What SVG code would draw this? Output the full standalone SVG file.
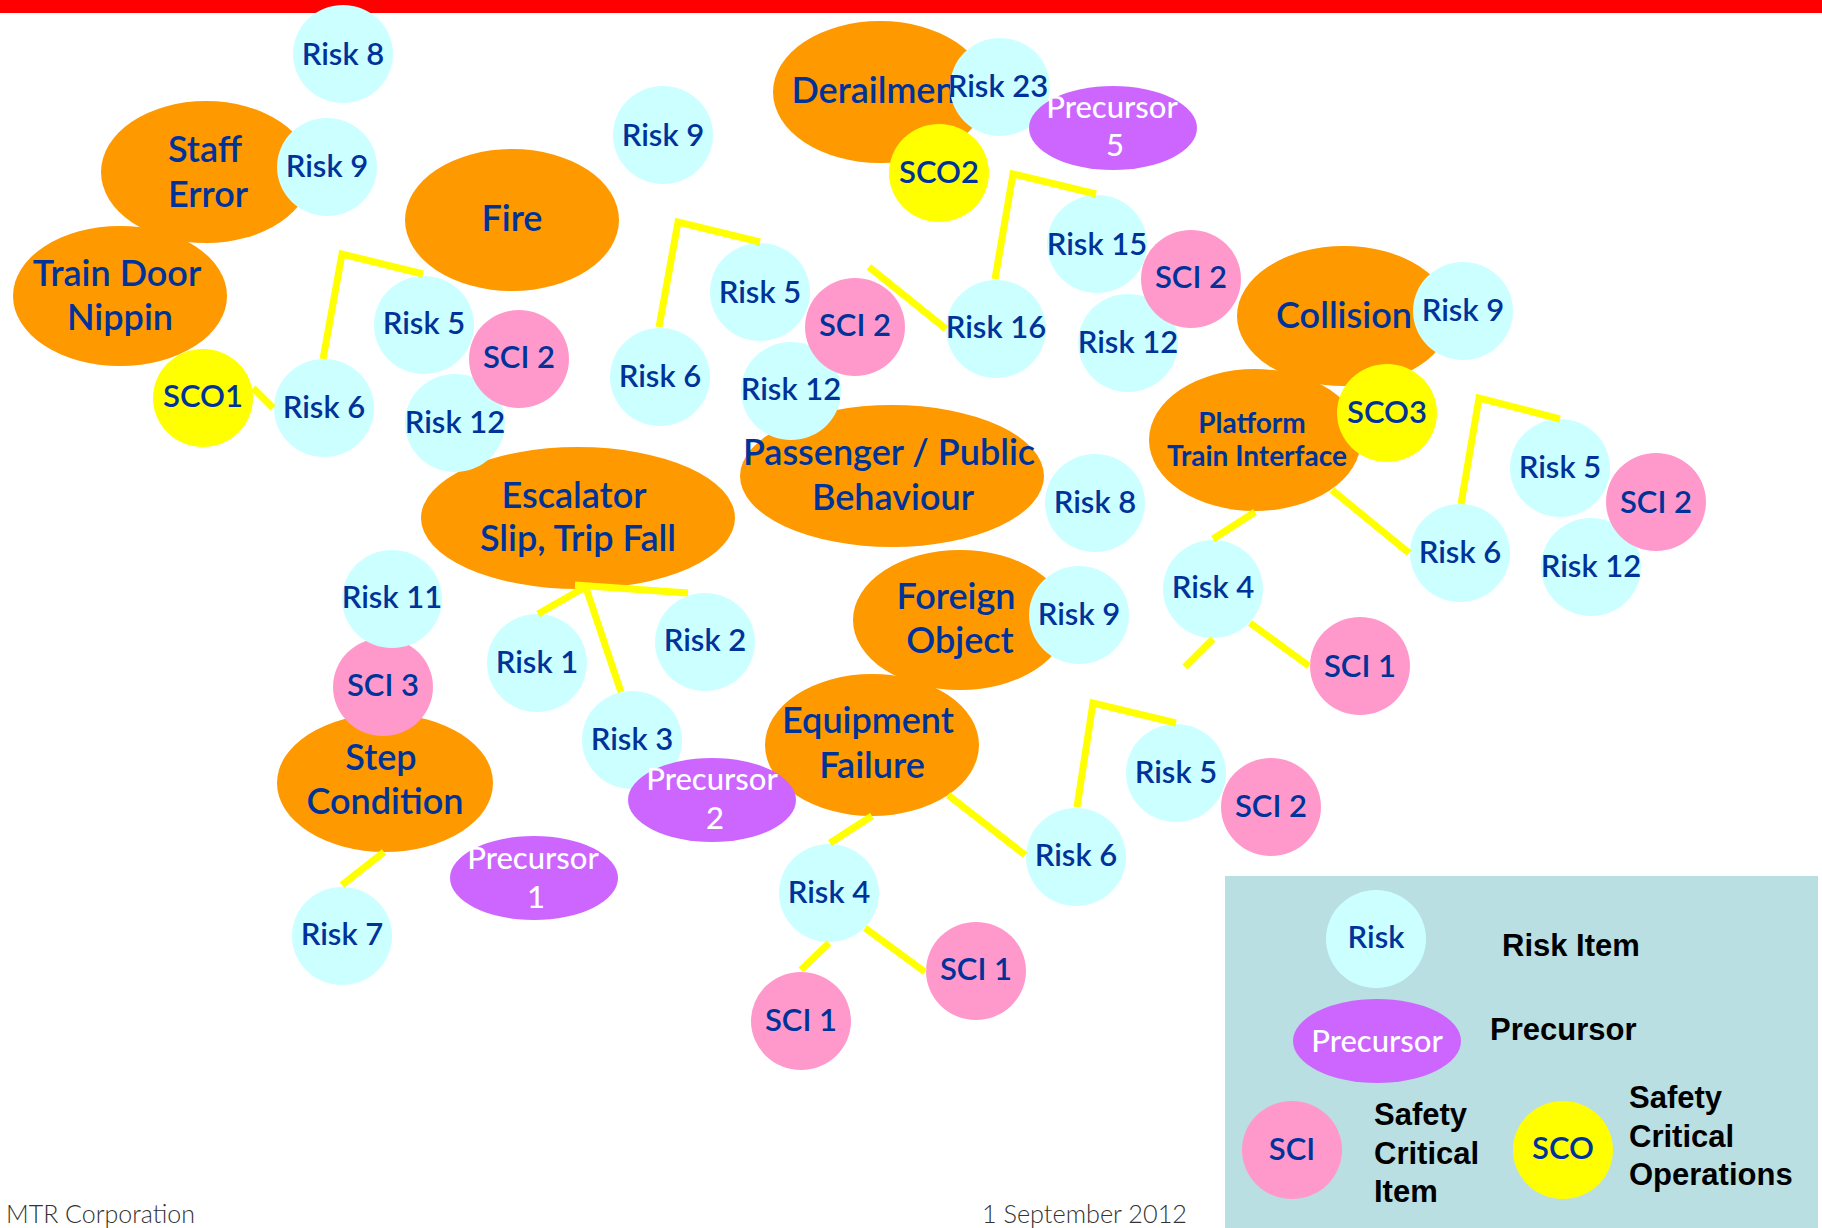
<svg xmlns="http://www.w3.org/2000/svg" width="1822" height="1228" viewBox="0 0 1822 1228">
  <style>
    .hz { fill: #FF9900; }
    .risk { fill: #CCFFFF; }
    .sci { fill: #FF99CC; }
    .sco { fill: #FFFF00; }
    .pre { fill: #CC66FF; }
    .lb { font-family: Lato, "Liberation Sans", sans-serif; font-weight: 600; font-size: 31px; fill: #003399; text-anchor: middle; }
    .big { font-size: 36px; }
    .ptb { font-weight: bold; font-size: 28px; }
    .wt { fill: #FFFFFF; font-weight: 500; }
    .key { font-family: "Liberation Sans", Arial, sans-serif; font-weight: bold; font-size: 31px; fill: #000000; }
    .foot { font-family: Lato, "Liberation Sans", sans-serif; font-weight: 300; font-size: 26px; fill: #333333; }
    .conn { stroke: #FFFF00; stroke-width: 7; fill: none; stroke-linejoin: miter; }
  </style>

  <!-- header band -->
  <rect x="0" y="0" width="1822" height="13" fill="#FF0000"/>

  <!-- hazard groups (orange) -->
  <g id="staff-error">
    <ellipse class="hz" cx="206" cy="172" rx="105" ry="71"/>
    <text class="lb big" x="205" y="162">Staff</text>
    <text class="lb big" x="208" y="207">Error</text>
  </g>
  <g id="train-door-nippin">
    <ellipse class="hz" cx="120" cy="296" rx="107" ry="70"/>
    <text class="lb big" x="117" y="286">Train Door</text>
    <text class="lb big" x="120" y="330">Nippin</text>
  </g>
  <g id="fire">
    <ellipse class="hz" cx="512" cy="220" rx="107" ry="71"/>
    <text class="lb big" x="512" y="231">Fire</text>
  </g>
  <g id="derailment">
    <ellipse class="hz" cx="880" cy="92" rx="107" ry="71"/>
    <text class="lb big" x="880" y="103">Derailment</text>
  </g>
  <g id="collision">
    <ellipse class="hz" cx="1344" cy="316" rx="107" ry="70"/>
    <text class="lb big" x="1344" y="328">Collision</text>
  </g>
  <g id="platform-train-interface">
    <ellipse class="hz" cx="1255" cy="440" rx="106" ry="71"/>
    <text class="lb ptb" x="1252" y="433">Platform</text>
    <text class="lb ptb" x="1257" y="466">Train Interface</text>
  </g>
  <g id="passenger-public-behaviour">
    <ellipse class="hz" cx="892" cy="476" rx="152" ry="71"/>
    <text class="lb big" x="889" y="465">Passenger / Public</text>
    <text class="lb big" x="893" y="510">Behaviour</text>
  </g>
  <g id="escalator-slip-trip-fall">
    <ellipse class="hz" cx="578" cy="518" rx="157" ry="71"/>
    <text class="lb big" x="574" y="508">Escalator</text>
    <text class="lb big" x="578" y="551">Slip, Trip Fall</text>
  </g>
  <g id="foreign-object">
    <ellipse class="hz" cx="960" cy="620" rx="107" ry="70"/>
    <text class="lb big" x="956" y="609">Foreign</text>
    <text class="lb big" x="960" y="653">Object</text>
  </g>
  <g id="equipment-failure">
    <ellipse class="hz" cx="872" cy="745" rx="107" ry="71"/>
    <text class="lb big" x="868" y="733">Equipment</text>
    <text class="lb big" x="872" y="778">Failure</text>
  </g>
  <g id="step-condition">
    <ellipse class="hz" cx="385" cy="783" rx="108" ry="69"/>
    <text class="lb big" x="381" y="770">Step</text>
    <text class="lb big" x="385" y="814">Condition</text>
  </g>

  <!-- risk items -->
  <g id="risk8-a"><ellipse class="risk" cx="343" cy="54" rx="50" ry="49"/><text class="lb" x="343" y="65">Risk 8</text></g>
  <g id="risk9-a"><ellipse class="risk" cx="327" cy="167" rx="50" ry="49"/><text class="lb" x="327" y="177">Risk 9</text></g>
  <g id="risk6-a"><ellipse class="risk" cx="324" cy="408" rx="50" ry="49"/><text class="lb" x="324" y="418">Risk 6</text></g>
  <g id="risk5-a"><ellipse class="risk" cx="424" cy="325" rx="50" ry="49"/><text class="lb" x="424" y="334">Risk 5</text></g>
  <g id="risk12-a"><ellipse class="risk" cx="455" cy="423" rx="50" ry="49"/><text class="lb" x="455" y="433">Risk 12</text></g>
  <g id="risk9-b"><ellipse class="risk" cx="663" cy="135" rx="50" ry="49"/><text class="lb" x="663" y="146">Risk 9</text></g>
  <g id="risk23"><ellipse class="risk" cx="1000" cy="87" rx="50" ry="49"/><text class="lb" x="998" y="97">Risk 23</text></g>
  <g id="risk5-b"><ellipse class="risk" cx="760" cy="292" rx="50" ry="49"/><text class="lb" x="760" y="303">Risk 5</text></g>
  <g id="risk6-b"><ellipse class="risk" cx="660" cy="377" rx="50" ry="49"/><text class="lb" x="660" y="387">Risk 6</text></g>
  <g id="risk12-b"><ellipse class="risk" cx="791" cy="391" rx="50" ry="49"/><text class="lb" x="791" y="400">Risk 12</text></g>
  <g id="risk16"><ellipse class="risk" cx="996" cy="329" rx="50" ry="49"/><text class="lb" x="996" y="338">Risk 16</text></g>
  <g id="risk15"><ellipse class="risk" cx="1097" cy="244" rx="50" ry="49"/><text class="lb" x="1097" y="255">Risk 15</text></g>
  <g id="risk12-c"><ellipse class="risk" cx="1128" cy="343" rx="50" ry="49"/><text class="lb" x="1128" y="353">Risk 12</text></g>
  <g id="risk9-c"><ellipse class="risk" cx="1463" cy="311" rx="50" ry="49"/><text class="lb" x="1463" y="321">Risk 9</text></g>
  <g id="risk5-c"><ellipse class="risk" cx="1560" cy="468" rx="50" ry="49"/><text class="lb" x="1560" y="478">Risk 5</text></g>
  <g id="risk12-d"><ellipse class="risk" cx="1591" cy="567" rx="50" ry="49"/><text class="lb" x="1591" y="577">Risk 12</text></g>
  <g id="risk6-c"><ellipse class="risk" cx="1460" cy="553" rx="50" ry="49"/><text class="lb" x="1460" y="563">Risk 6</text></g>
  <g id="risk4-c"><ellipse class="risk" cx="1213" cy="589" rx="50" ry="49"/><text class="lb" x="1213" y="598">Risk 4</text></g>
  <g id="risk8-b"><ellipse class="risk" cx="1095" cy="503" rx="50" ry="49"/><text class="lb" x="1095" y="513">Risk 8</text></g>
  <g id="risk9-d"><ellipse class="risk" cx="1079" cy="615" rx="50" ry="49"/><text class="lb" x="1079" y="625">Risk 9</text></g>
  <g id="risk1"><ellipse class="risk" cx="537" cy="663" rx="50" ry="49"/><text class="lb" x="537" y="673">Risk 1</text></g>
  <g id="risk2"><ellipse class="risk" cx="705" cy="642" rx="50" ry="49"/><text class="lb" x="705" y="651">Risk 2</text></g>
  <g id="risk3"><ellipse class="risk" cx="632" cy="740" rx="50" ry="49"/><text class="lb" x="632" y="750">Risk 3</text></g>
  <g id="risk7"><ellipse class="risk" cx="342" cy="936" rx="50" ry="49"/><text class="lb" x="342" y="945">Risk 7</text></g>
  <g id="risk4-e"><ellipse class="risk" cx="829" cy="893" rx="50" ry="49"/><text class="lb" x="829" y="903">Risk 4</text></g>
  <g id="risk6-e"><ellipse class="risk" cx="1076" cy="857" rx="50" ry="49"/><text class="lb" x="1076" y="866">Risk 6</text></g>
  <g id="risk5-e"><ellipse class="risk" cx="1176" cy="773" rx="50" ry="49"/><text class="lb" x="1176" y="783">Risk 5</text></g>

  <!-- safety critical items -->
  <g id="sci2-a"><ellipse class="sci" cx="519" cy="359" rx="50" ry="49"/><text class="lb" x="519" y="368">SCI 2</text></g>
  <g id="sci2-b"><ellipse class="sci" cx="855" cy="327" rx="50" ry="49"/><text class="lb" x="855" y="336">SCI 2</text></g>
  <g id="sci2-c"><ellipse class="sci" cx="1191" cy="279" rx="50" ry="49"/><text class="lb" x="1191" y="288">SCI 2</text></g>
  <g id="sci2-d"><ellipse class="sci" cx="1656" cy="502" rx="50" ry="49"/><text class="lb" x="1656" y="513">SCI 2</text></g>
  <g id="sci2-e"><ellipse class="sci" cx="1271" cy="807" rx="50" ry="49"/><text class="lb" x="1271" y="817">SCI 2</text></g>
  <g id="sci1-c"><ellipse class="sci" cx="1360" cy="666" rx="50" ry="49"/><text class="lb" x="1360" y="677">SCI 1</text></g>
  <g id="sci1-e2"><ellipse class="sci" cx="976" cy="971" rx="50" ry="49"/><text class="lb" x="976" y="980">SCI 1</text></g>
  <g id="sci1-e1"><ellipse class="sci" cx="801" cy="1021" rx="50" ry="49"/><text class="lb" x="801" y="1031">SCI 1</text></g>
  <g id="sci3"><ellipse class="sci" cx="383" cy="687" rx="50" ry="49"/><text class="lb" x="383" y="696">SCI 3</text></g>
  <g id="risk11"><ellipse class="risk" cx="392" cy="599" rx="50" ry="49"/><text class="lb" x="392" y="608">Risk 11</text></g>

  <!-- safety critical operations -->
  <g id="sco1"><ellipse class="sco" cx="203" cy="398" rx="50" ry="49"/><text class="lb" x="203" y="407">SCO1</text></g>
  <g id="sco2"><ellipse class="sco" cx="939" cy="173" rx="50" ry="49"/><text class="lb" x="939" y="183">SCO2</text></g>
  <g id="sco3"><ellipse class="sco" cx="1387" cy="413" rx="50" ry="49"/><text class="lb" x="1387" y="423">SCO3</text></g>

  <!-- precursors -->
  <g id="precursor5"><ellipse class="pre" cx="1113" cy="128" rx="84" ry="42"/><text class="lb wt" x="1112" y="118">Precursor</text><text class="lb wt" x="1115" y="156">5</text></g>
  <g id="precursor2"><ellipse class="pre" cx="712" cy="800" rx="84" ry="42"/><text class="lb wt" x="712" y="790">Precursor</text><text class="lb wt" x="715" y="829">2</text></g>
  <g id="precursor1"><ellipse class="pre" cx="534" cy="878" rx="84" ry="42"/><text class="lb wt" x="533" y="869">Precursor</text><text class="lb wt" x="536" y="908">1</text></g>

  <!-- connectors -->
  <g id="connectors">
    <polyline class="conn" points="323,359 342,254 423,274"/>
    <line class="conn" x1="253" y1="388" x2="273" y2="408"/>
    <polyline class="conn" points="659,327 678,222 760,242"/>
    <line class="conn" x1="869" y1="267" x2="946" y2="329"/>
    <polyline class="conn" points="995,279 1013,174 1096,194"/>
    <line class="conn" x1="1332" y1="490" x2="1409" y2="553"/>
    <line class="conn" x1="1255" y1="512" x2="1213" y2="539"/>
    <line class="conn" x1="1250" y1="623" x2="1309" y2="666"/>
    <line class="conn" x1="1213" y1="639" x2="1185" y2="667"/>
    <polyline class="conn" points="1461,504 1479,398 1560,419"/>
    <line class="conn" x1="587" y1="586" x2="538" y2="614"/>
    <line class="conn" x1="575" y1="585" x2="688" y2="593"/>
    <line class="conn" x1="586" y1="588" x2="621" y2="692"/>
    <line class="conn" x1="384" y1="852" x2="342" y2="885"/>
    <line class="conn" x1="872" y1="816" x2="830" y2="843"/>
    <line class="conn" x1="948" y1="795" x2="1025" y2="855"/>
    <polyline class="conn" points="1077,807 1093,703 1176,723"/>
    <line class="conn" x1="865" y1="928" x2="925" y2="972"/>
    <line class="conn" x1="829" y1="943" x2="801" y2="970"/>
  </g>

  <!-- key -->
  <g id="legend">
    <rect x="1225" y="876" width="593" height="352" fill="#BADFE2"/>
    <ellipse class="risk" cx="1376" cy="939" rx="50" ry="49"/>
    <text class="lb" x="1376" y="948">Risk</text>
    <text class="key" x="1502" y="956">Risk Item</text>
    <ellipse class="pre" cx="1377" cy="1041" rx="84" ry="42"/>
    <text class="lb wt" x="1377" y="1052">Precursor</text>
    <text class="key" x="1490" y="1040">Precursor</text>
    <ellipse class="sci" cx="1292" cy="1150" rx="50" ry="49"/>
    <text class="lb" x="1292" y="1160">SCI</text>
    <text class="key" x="1374" y="1125">Safety</text>
    <text class="key" x="1374" y="1164">Critical</text>
    <text class="key" x="1374" y="1202">Item</text>
    <ellipse class="sco" cx="1563" cy="1150" rx="50" ry="49"/>
    <text class="lb" x="1563" y="1159">SCO</text>
    <text class="key" x="1629" y="1108">Safety</text>
    <text class="key" x="1629" y="1147">Critical</text>
    <text class="key" x="1629" y="1185">Operations</text>
  </g>

  <!-- footer -->
  <text class="foot" x="6" y="1223" textLength="189" lengthAdjust="spacingAndGlyphs">MTR Corporation</text>
  <text class="foot" x="982" y="1223" textLength="205" lengthAdjust="spacingAndGlyphs">1 September 2012</text>
</svg>
